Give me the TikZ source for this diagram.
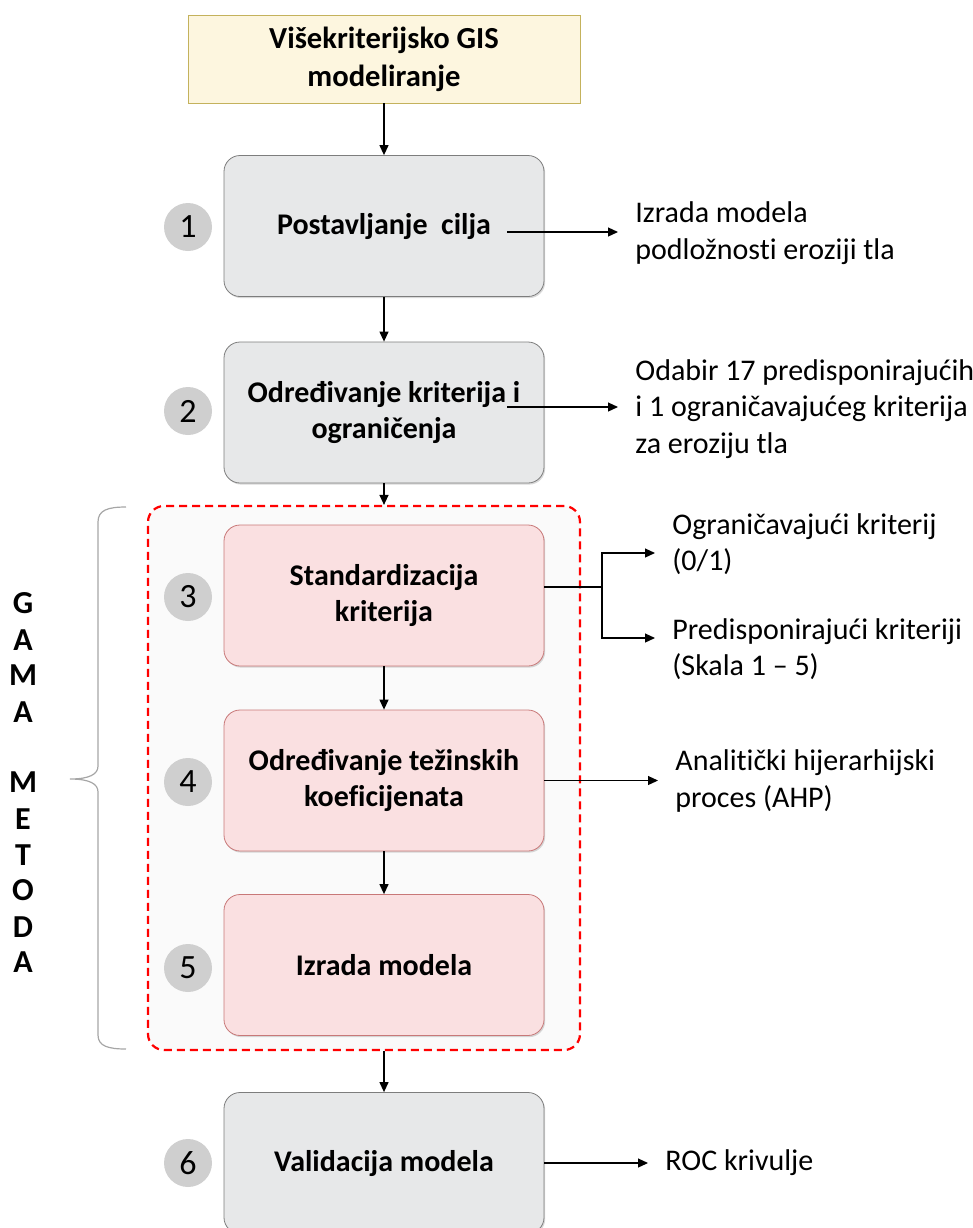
\documentclass[tikz,border=0pt]{standalone}
\usepackage{fontspec}
\setmainfont{Carlito}[Ligatures=CommonOff]
\usetikzlibrary{arrows.meta,shadows}

\definecolor{boxgray}{RGB}{231,232,233}
\definecolor{edgegray}{RGB}{125,125,125}
\definecolor{boxpink}{RGB}{250,224,225}
\definecolor{edgepink}{RGB}{200,120,120}
\definecolor{boxcream}{RGB}{253,246,223}
\definecolor{edgecream}{RGB}{196,178,92}
\definecolor{stepgray}{RGB}{207,207,207}
\definecolor{panelgray}{RGB}{250,250,250}
\definecolor{bracegray}{RGB}{166,166,166}

\begin{document}
\begin{tikzpicture}[x=0.5pt,y=-0.5pt,
  stepbox/.style={draw=edgegray, fill=boxgray, rounded corners=8pt,
    minimum width=160pt, minimum height=70.5pt, align=center,
    font=\fontsize{15pt}{18pt}\selectfont\bfseries,
    drop shadow={shadow xshift=0.6pt, shadow yshift=-0.8pt, opacity=0.3}},
  redbox/.style={stepbox, fill=boxpink, draw=edgepink},
  topbox/.style={draw=edgecream, fill=boxcream, minimum width=196pt,
    minimum height=44pt, align=center,
    font=\fontsize{15.3pt}{19pt}\selectfont\bfseries},
  num/.style={circle, fill=stepgray, minimum size=24pt, inner sep=0pt,
    font=\fontsize{17pt}{18pt}\selectfont},
  note/.style={anchor=west, align=left, inner xsep=8.5pt, inner ysep=0pt,
    font=\fontsize{15pt}{18.3pt}\selectfont},
  letter/.style={font=\fontsize{16pt}{18pt}\selectfont\bfseries},
  conn/.style={-{Triangle[length=5pt,width=4.5pt]}, line width=0.6pt},
  panel/.style={draw=red, fill=panelgray, line width=1.1pt,
    dash pattern=on 4pt off 2.5pt, rounded corners=8pt,
    minimum width=216pt, minimum height=272pt}]
\useasboundingbox (0,0) rectangle (973,1228);

% gama metoda panel
\node [panel] (gama) at (364,778) {};
\draw [bracegray, line width=0.6pt] (126,507) .. controls (108,507) and (98,510) .. (98,522)
  -- (98,766) .. controls (98,774) and (90,779) .. (70,779)
  .. controls (90,779) and (98,784) .. (98,792)
  -- (98,1035) .. controls (98,1046) and (108,1049) .. (126,1049);
\foreach \ch/\yy [count=\i] in {G/603, A/640, M/675, A/712, M/782,
    E/819, T/855, O/890, D/927, A/962}
  \node [letter] (g\i) at (23,\yy) {\ch};

% steps
\node [topbox] (gis) at (384,59) {Višekriterijsko GIS\\modeliranje};
\node [stepbox] (box1) at (384,226) {Postavljanje\ \ cilja};
\node [stepbox] (box2) at (384,412.5) {Određivanje kriterija i\\ograničenja};
\node [redbox] (box3) at (384,595.5) {Standardizacija\\kriterija};
\node [redbox] (box4) at (384,780.5) {Određivanje težinskih\\koeficijenata};
\node [redbox] (box5) at (384,965) {Izrada modela};
\node [stepbox] (box6) at (384,1163) {Validacija modela};

\node [num] (n1) at (188,227) {1};
\node [num] (n2) at (188,411) {2};
\node [num] (n3) at (188,597) {3};
\node [num] (n4) at (188,782) {4};
\node [num] (n5) at (188,968) {5};
\node [num] (n6) at (188,1163) {6};

\draw [conn] (gis.south) -- (box1.north);
\draw [conn] (box1.south) -- (box2.north);
\draw [conn] (box2.south) -- (box2.south |- gama.north);
\draw [conn] (box3.south) -- (box4.north);
\draw [conn] (box4.south) -- (box5.north);
\draw [conn] (box6.north |- gama.south) -- (box6.north);

% notes on the right
\coordinate (s1) at (507,232);
\node [note] (lab1) at (618,233) {Izrada modela\\podložnosti eroziji tla};
\draw [conn] (s1) -- (s1 -| lab1.west);

\coordinate (s2) at (507,407);
\node [note] (lab2) at (618,409) {Odabir 17 predisponirajućih\\i 1 ograničavajućeg kriterija\\za eroziju tla};
\draw [conn] (s2) -- (s2 -| lab2.west);

\coordinate (j3) at (602,587);
\coordinate (t3a) at (655,553);
\coordinate (t3b) at (655,638);
\node [note] (lab3a) at (655,544) {Ograničavajući kriterij\\(0/1)};
\node [note] (lab3b) at (655,649) {Predisponirajući kriteriji\\(Skala 1 – 5)};
\draw [line width=0.6pt] (box3.east |- j3) -- (j3);
\draw [conn] (j3) |- (t3a);
\draw [conn] (j3) |- (t3b);

\node [note] (lab4) at (658,781) {Analitički hijerarhijski\\proces (AHP)};
\draw [conn] (box4.east) -- (box4.east -| lab4.west);

\node [note] (lab6) at (648,1163) {ROC krivulje};
\draw [conn] (box6.east) -- (box6.east -| lab6.west);
\end{tikzpicture}
\end{document}
